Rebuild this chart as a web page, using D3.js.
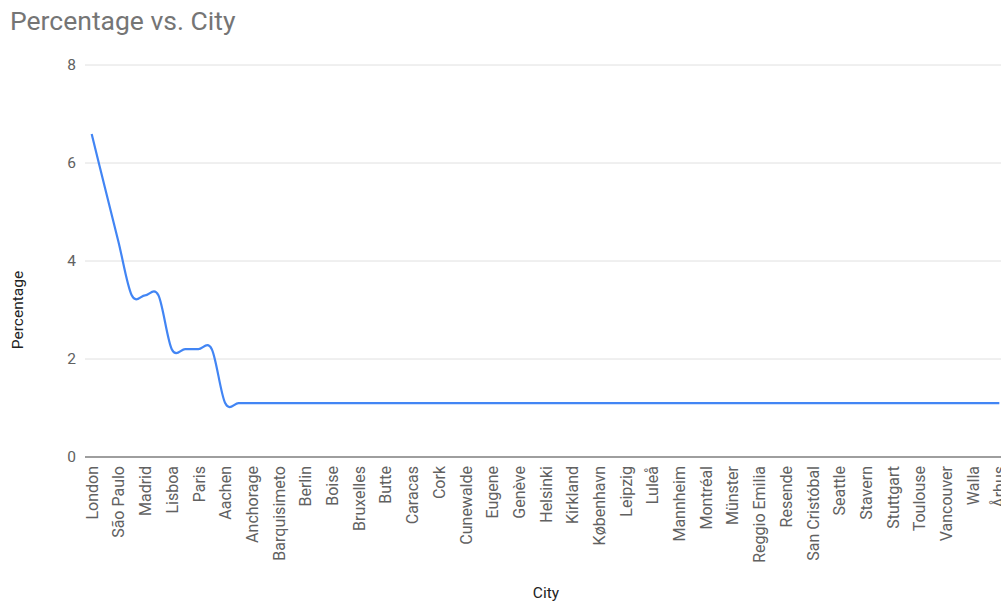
<!DOCTYPE html>
<html><head><meta charset="utf-8">
<script src="https://cdn.jsdelivr.net/npm/d3@7"></script>
<style>
body{margin:0;background:#fff;overflow:hidden}
text{font-family:Roboto,"Noto Sans",Arial,sans-serif}
</style></head>
<body><svg id="c" width="1001" height="608"></svg>
<script>
const cities = ["London","México D.F.","São Paulo","Buenos Aires","Madrid","Rio de Janeiro","Lisboa","Nantes","Paris","Portland",
"Aachen","Albuquerque","Anchorage","Barcelona","Barquisimeto","Bergamo","Berlin","Bern","Boise","Brandenburg",
"Bruxelles","Bräcke","Butte","Campinas","Caracas","Charleroi","Cork","Cowes","Cunewalde","Elgin",
"Eugene","Frankfurt a.M.","Genève","Graz","Helsinki","I. de Margarita","Kirkland","Köln","København","Lander",
"Leipzig","Lille","Luleå","Lyon","Mannheim","Marseille","Montréal","München","Münster","Oulu",
"Reggio Emilia","Reims","Resende","Salzburg","San Cristóbal","San Francisco","Seattle","Sevilla","Stavern","Strasbourg",
"Stuttgart","Torino","Toulouse","Tsawassen","Vancouver","Versailles","Walla","Warszawa","Århus"];
const percentages = [6.59,5.49,4.40,3.30,3.30,3.30,2.20,2.20,2.20,2.20,
1.10,1.10,1.10,1.10,1.10,1.10,1.10,1.10,1.10,1.10,
1.10,1.10,1.10,1.10,1.10,1.10,1.10,1.10,1.10,1.10,
1.10,1.10,1.10,1.10,1.10,1.10,1.10,1.10,1.10,1.10,
1.10,1.10,1.10,1.10,1.10,1.10,1.10,1.10,1.10,1.10,
1.10,1.10,1.10,1.10,1.10,1.10,1.10,1.10,1.10,1.10,
1.10,1.10,1.10,1.10,1.10,1.10,1.10,1.10,1.10];
const yTicks = [0,2,4,6,8];
const title = "Percentage vs. City";
const xTitle = "City", yTitle = "Percentage";

const svg = d3.select("#c");
const mLeft = 85, mRight = 1006, mTop = 65, mBottom = 457;
const x = d3.scalePoint().domain(cities).range([mLeft, mRight]).padding(0.5);
const y = d3.scaleLinear().domain([0, 8]).range([mBottom, mTop]);

svg.append("text").attr("x", 10).attr("y", 29.5).attr("font-size", 26.5).attr("fill", "#757575").text(title);

// gridlines
svg.append("g").selectAll("line").data(yTicks.filter(d => d !== 0)).join("line")
  .attr("x1", mLeft).attr("x2", mRight).attr("y1", d => y(d)).attr("y2", d => y(d))
  .attr("stroke", "#e0e0e0").attr("stroke-width", 1);

// y axis labels
const ya = svg.append("g").attr("transform", `translate(${mLeft},0)`)
  .call(d3.axisLeft(y).tickValues(yTicks).tickSize(0).tickPadding(9).tickFormat(d3.format("d")));
ya.select(".domain").remove();
ya.selectAll("text").attr("font-size", 15.5).attr("fill", "#616161").attr("font-family", "Roboto,sans-serif");

// x axis
const xa = svg.append("g").attr("transform", `translate(0,${mBottom})`)
  .call(d3.axisBottom(x).tickValues(cities.filter((d, i) => i % 2 === 0)).tickSize(0).tickPadding(0));
xa.select(".domain").attr("stroke", "#9e9e9e").attr("stroke-width", 2).attr("d", `M${mLeft},0H${mRight}`);
xa.selectAll("text").attr("font-size", 16).attr("fill", "#616161").attr("font-family", "Roboto,sans-serif")
  .attr("transform", "rotate(-90)").attr("text-anchor", "end").attr("x", -9).attr("y", 0).attr("dy", "0.35em");

// line
const line = d3.line().x((d, i) => x(cities[i])).y(d => y(d)).curve(d3.curveCardinal.tension(0));
svg.append("path").datum(percentages).attr("d", line).attr("fill", "none")
  .attr("stroke", "#4285f4").attr("stroke-width", 2.2).attr("stroke-linejoin", "round");

// axis titles
svg.append("text").attr("x", 546).attr("y", 598).attr("text-anchor", "middle").attr("font-size", 15.5).attr("fill", "#222").text(xTitle);
svg.append("text").attr("transform", "translate(23,310) rotate(-90)").attr("text-anchor", "middle").attr("font-size", 15.5).attr("fill", "#222").text(yTitle);
</script></body></html>
